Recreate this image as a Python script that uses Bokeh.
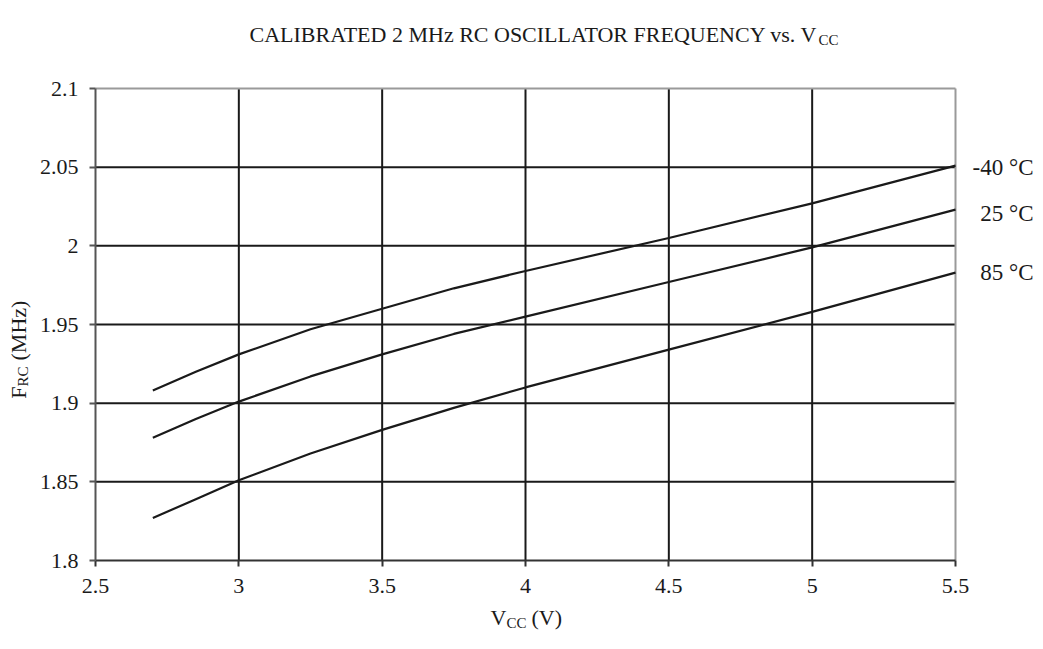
from bokeh.plotting import figure
from bokeh.models import Label, FixedTicker, Range1d, CustomJSTickFormatter, LinearAxis
from bokeh.embed import file_html
from bokeh.resources import INLINE
import math

# ---- data ----
vcc = [2.7, 2.85, 3.0, 3.25, 3.5, 3.75, 4.0, 4.5, 5.0, 5.5]
f_m40 = [1.908, 1.920, 1.931, 1.947, 1.960, 1.973, 1.984, 2.005, 2.027, 2.051]
f_25 = [1.878, 1.890, 1.901, 1.917, 1.931, 1.944, 1.955, 1.977, 1.999, 2.023]
f_85 = [1.827, 1.839, 1.851, 1.868, 1.883, 1.897, 1.910, 1.934, 1.958, 1.983]
series = [f_m40, f_25, f_85]
series_labels = ["-40 °C", "25 °C", "85 °C"]

x_ticks = [2.5, 3.0, 3.5, 4.0, 4.5, 5.0, 5.5]
x_tick_labels = ["2.5", "3", "3.5", "4", "4.5", "5", "5.5"]
y_ticks = [1.8, 1.85, 1.9, 1.95, 2.0, 2.05, 2.1]
y_tick_labels = ["1.8", "1.85", "1.9", "1.95", "2", "2.05", "2.1"]

title_main = "CALIBRATED 2 MHz RC OSCILLATOR FREQUENCY vs. V"
title_sub = "CC"
xlabel_parts = ["V", "CC", "(V)"]
ylabel_parts = ["F", "RC", "(MHz)"]

# ---- layout / style ----
FONT = "Liberation Serif"
INK = "#1a1a1a"
W, H = 1035, 641                       # canvas (frame spans it all)
PX_L, PX_R, PX_T, PX_B = 95, 955, 88, 560   # plot box in canvas pixels

x0, x1 = x_ticks[0], x_ticks[-1]
y0, y1 = y_ticks[0], y_ticks[-1]
sx = (x1 - x0) / (PX_R - PX_L)
sy = (y1 - y0) / (PX_B - PX_T)
x_range = Range1d(x0 - PX_L * sx, x0 + (W - PX_L) * sx)
y_range = Range1d(y0 - (H - PX_B) * sy, y1 + PX_T * sy)

p = figure(frame_width=W, frame_height=H, min_border=0,
           x_range=x_range, y_range=y_range,
           x_axis_location=None, y_axis_location=None,
           output_backend="svg", toolbar_location=None,
           background_fill_color="white", border_fill_color="white")
p.outline_line_color = None
p.grid.visible = False

fmt_code = """
const i = tvals.findIndex(t => Math.abs(t - tick) < 1e-9);
return i >= 0 ? tlabels[i] : "";
"""

xaxis = LinearAxis(fixed_location=y0, bounds=(x0, x1))
yaxis = LinearAxis(fixed_location=x0, bounds=(y0, y1))
for ax, tks, lbls in ((xaxis, x_ticks, x_tick_labels), (yaxis, y_ticks, y_tick_labels)):
    ax.ticker = FixedTicker(ticks=tks)
    ax.formatter = CustomJSTickFormatter(args=dict(tvals=tks, tlabels=lbls), code=fmt_code)
    ax.major_label_text_font = FONT
    ax.major_label_text_font_size = "22px"
    ax.major_label_text_color = INK
    ax.major_tick_in = 0
    ax.major_tick_out = 6
    ax.minor_tick_line_color = None
    ax.axis_line_width = 2
    ax.major_tick_line_width = 2
xaxis.axis_line_color = "#333333"
xaxis.major_tick_line_color = "#333333"
yaxis.axis_line_color = "#555555"
yaxis.major_tick_line_color = "#555555"
xaxis.major_label_standoff = 12
yaxis.major_label_standoff = 11

# grid lines (interior), then light box edges on top/right
gx = x_ticks[1:-1]
gy = y_ticks[1:-1]
p.segment(x0=gx, y0=[y0] * len(gx), x1=gx, y1=[y1] * len(gx), line_color=INK, line_width=2)
p.segment(x0=[x0] * len(gy), y0=gy, x1=[x1] * len(gy), y1=gy, line_color=INK, line_width=2)
p.segment(x0=[x0, x1], y0=[y1, y0], x1=[x1, x1], y1=[y1, y1], line_color="#9a9a9a", line_width=2)

p.add_layout(xaxis, "below")
p.add_layout(yaxis, "left")

for ys in series:
    p.line(vcc, ys, line_color=INK, line_width=2.2)

def lab(text, x, y, dx, dy, size="22px", align="left", angle=0.0):
    p.add_layout(Label(x=x, y=y, x_offset=dx, y_offset=dy, text=text,
                       text_font=FONT, text_font_size=size, text_color=INK,
                       text_align=align, text_baseline="alphabetic", angle=angle))

# title
lab(title_main, x0, y1, 722, 54, align="right")
lab(title_sub, x0, y1, 723, 49, size="15px")

# x axis label
lab(xlabel_parts[0], x0, y0, 411, -57, align="right")
lab(xlabel_parts[1], x0, y0, 411, -62, size="15px")
lab(xlabel_parts[2], x0, y0, 436, -57)

# y axis label (rotated)
lab(ylabel_parts[0], x0, y0, -77, 174, align="right", angle=math.pi / 2)
lab(ylabel_parts[1], x0, y0, -73, 174, size="15px", angle=math.pi / 2)
lab(ylabel_parts[2], x0, y0, -77, 200, angle=math.pi / 2)

# series labels at right
for txt, dy in zip(series_labels, (-79, -125, -184)):
    lab(txt, x1, y1, 78, dy, size="23px", align="right")

open("out.html", "w").write(file_html(p, INLINE))
